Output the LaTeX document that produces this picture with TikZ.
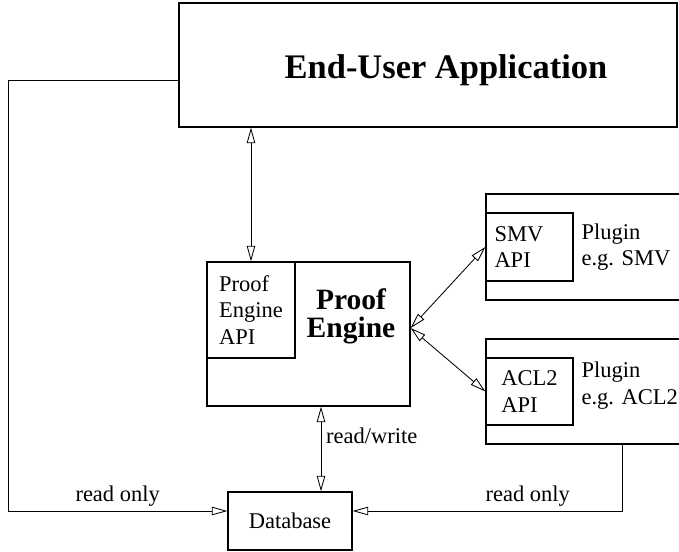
\documentclass[tikz,border=0pt]{standalone}
\usepackage{fontspec}
\setmainfont{Liberation Serif}
\usetikzlibrary{arrows.meta,positioning}
\newlength\pxu
\setlength\pxu{0.025cm}

\begin{document}
\begin{tikzpicture}[x=0.025cm, y=-0.025cm, line width=0.6pt,
  font=\fontsize{16}{19}\selectfont,
  >={Triangle[open, length=11pt, width=6pt]},
  box/.style = {draw, line width=0.9pt, inner sep=0pt}]
\useasboundingbox (0,0) rectangle (679,552);
\clip (0,0) rectangle (679,552);

\node (app) [box, minimum width=498\pxu, minimum height=124\pxu] at (428,65) {};
\node (apptitle) at (446,70) {\fontsize{24.5}{29}\selectfont\bfseries End-User Application};

\node (engine) [box, minimum width=203\pxu, minimum height=144\pxu] at (308.5,334) {};
\node (api) [box, anchor=north west, minimum width=88\pxu, minimum height=96\pxu, align=left] at (engine.north west) {Proof\\Engine\\API};
\node (enginetitle) [align=center, font=\fontsize{21}{20}\selectfont\bfseries] at (351,316) {Proof\\Engine};

\node (db) [box, minimum width=124\pxu, minimum height=58\pxu] at (290,521) {Database};

\node (smv) [box, minimum width=234\pxu, minimum height=106\pxu] at (603,247) {};
\node (smvapi) [box, anchor=west, minimum width=87\pxu, minimum height=68\pxu, text width=70\pxu, align=left] at (smv.west) {SMV\\API};
\node (smvname) [right=2pt of smvapi, align=left] {Plugin\\e.g. SMV};

\node (acl) [box, minimum width=234\pxu, minimum height=105\pxu] at (603,391.5) {};
\node (aclapi) [box, anchor=west, minimum width=87\pxu, minimum height=67\pxu, align=left] at (acl.west) {ACL2\\API};
\node (aclname) [right=2pt of aclapi, yshift=6\pxu, align=left] {Plugin\\e.g. ACL2};

% two-way links
\draw[<->] (api.north) -- (api.north |- app.south);
\coordinate (enginedb) at ([xshift=12.5\pxu]engine.south);
\draw[<->] (enginedb) -- node[pos=0.35, right] {read/write} (enginedb |- db.north);
\coordinate (engineport) at ([yshift=6\pxu]engine.east);
\draw[<->] (engineport) -- (smvapi.west);
\draw[<->] (engineport) -- (aclapi.west);

% read only access
\coordinate (appout) at ([yshift=-15\pxu]app.west);
\coordinate (leftrail) at (8,80);
\coordinate (dbinl) at ([yshift=10\pxu]db.west);
\coordinate (dbinr) at ([yshift=10\pxu]db.east);
\coordinate (aclout) at ([xshift=19\pxu]acl.south);
\draw[->] (appout) -- (leftrail) |- node[pos=0.75, above] {read only} (dbinl);
\draw[->] (aclout) |- node[pos=0.675, above] {read only} (dbinr);

\end{tikzpicture}
\end{document}
